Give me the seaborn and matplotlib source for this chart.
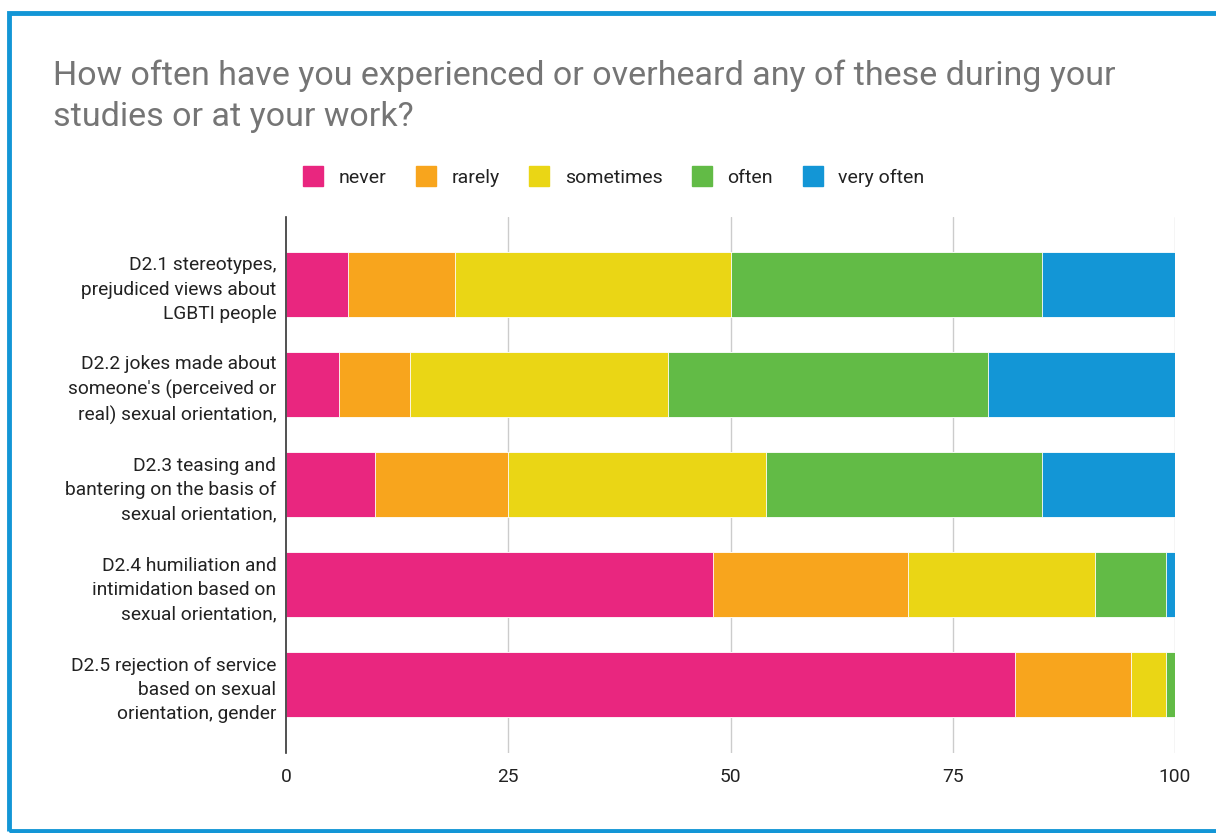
import matplotlib
matplotlib.use("Agg")
import matplotlib.pyplot as plt
import seaborn as sns
import pandas as pd
import numpy as np
from matplotlib.patches import Rectangle
from matplotlib.lines import Line2D

categories = [
    "D2.1 stereotypes,\nprejudiced views about\nLGBTI people",
    "D2.2 jokes made about\nsomeone's (perceived or\nreal) sexual orientation,",
    "D2.3 teasing and\nbantering on the basis of\nsexual orientation,",
    "D2.4 humiliation and\nintimidation based on\nsexual orientation,",
    "D2.5 rejection of service\nbased on sexual\norientation, gender",
]
series = ["never", "rarely", "sometimes", "often", "very often"]
never = [7, 6, 10, 48, 82]
rarely = [12, 8, 15, 22, 13]
sometimes = [31, 29, 29, 21, 4]
often = [35, 36, 31, 8, 1]
very_often = [15, 21, 15, 1, 0]
colors = ["#E9267F", "#F8A51D", "#EAD615", "#62BB46", "#1396D6"]
x_ticks = [0, 25, 50, 75, 100]

sns.set_theme(style="white")
plt.rcParams["font.family"] = ["Roboto", "DejaVu Sans"]

values = np.array([never, rarely, sometimes, often, very_often], dtype=float)
cum = np.cumsum(values, axis=0)

fig = plt.figure(figsize=(12.16, 8.33), dpi=100)
ax = fig.add_axes([286 / 1216, 1 - 753 / 833, (1175 - 286) / 1216, (753 - 217) / 833])

# draw from the largest cumulative to the smallest so each segment shows
for i in range(len(series) - 1, -1, -1):
    df = pd.DataFrame({"cat": categories, "val": cum[i]})
    sns.barplot(data=df, y="cat", x="val", orient="y", color=colors[i],
                width=0.65, ax=ax, saturation=1, zorder=3,
                edgecolor="white", linewidth=0.6)

ax.set_xlim(0, 100)
ax.set_ylim(4.68, -0.675)
ax.set_xticks(x_ticks)
ax.set_xticklabels([str(t) for t in x_ticks], fontsize=13.8, color="#222222")
ax.tick_params(axis="y", labelsize=13.8, labelcolor="#222222", length=0, pad=7)
ax.tick_params(axis="x", length=0, pad=11)
for lab in ax.get_yticklabels():
    lab.set_linespacing(1.45)
    lab.set_horizontalalignment("right")
ax.set_xlabel("")
ax.set_ylabel("")
for s in ["top", "right", "bottom"]:
    ax.spines[s].set_visible(False)
ax.spines["left"].set_color("#333333")
ax.spines["left"].set_linewidth(1.2)
ax.spines["left"].set_zorder(5)
for t in x_ticks[1:]:
    ax.axvline(t, color="#CCCCCC", linewidth=1, zorder=1)
ax.grid(False)

# title
fig.text(53 / 1216, 1 - 60 / 833,
         "How often have you experienced or overheard any of these during your\nstudies or at your work?",
         fontsize=24.5, color="#757575", ha="left", va="top", linespacing=1.33)

# legend
handles = [Line2D([0], [0], marker="s", linestyle="", markersize=15,
                  markerfacecolor=c, markeredgecolor=c) for c in colors]
fig.legend(handles, series, loc="center", bbox_to_anchor=(614 / 1216, 1 - 178 / 833),
           ncol=5, frameon=False, fontsize=14, handletextpad=0.8, columnspacing=1.55,
           labelcolor="#222222", handlelength=1.0)

# blue frame
fig.patches.append(Rectangle((9 / 1216, 2 / 833), 1.2, 1 - 15 / 833, transform=fig.transFigure,
                             fill=False, edgecolor="#1396D6", linewidth=3.5))

fig.savefig("out.png", dpi=100)
